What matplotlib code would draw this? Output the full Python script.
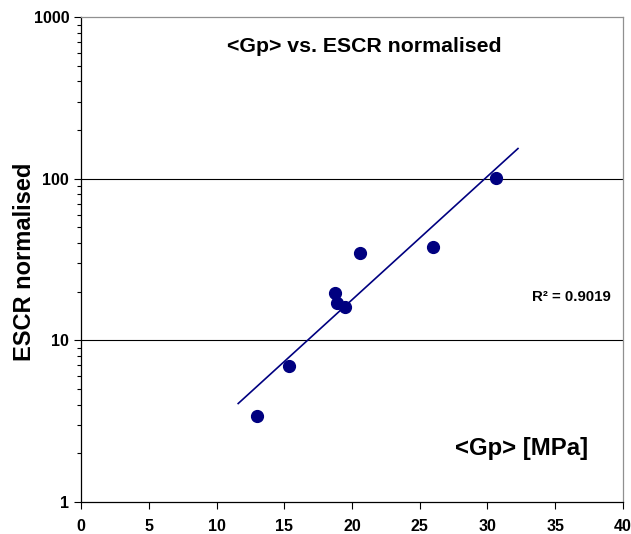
import numpy as np
import matplotlib
matplotlib.use("Agg")
import matplotlib.pyplot as plt
import matplotlib.ticker as mticker

# data
gp = [13.0, 15.35, 18.75, 18.9, 19.5, 20.6, 26.0, 30.65]
escr = [3.4, 6.9, 19.7, 17.0, 16.0, 34.8, 37.7, 100.5]
trend_x = [11.6, 32.25]
r2_label = "R² = 0.9019"

plt.rcParams.update({
    "font.family": ["Liberation Sans", "DejaVu Sans"],
    "font.weight": "bold",
})

fig = plt.figure(figsize=(6.31, 5.34), dpi=100)
ax = fig.add_axes([0.1284, 0.0599, 0.8589, 0.908])

ax.set_yscale("log")
ax.set_xlim(0, 40)
ax.set_ylim(1, 1000)

# exponential trendline (fit in log space)
slope, icpt = np.polyfit(gp, np.log10(escr), 1)
tx = np.linspace(trend_x[0], trend_x[1], 50)
ax.plot(tx, 10 ** (icpt + slope * tx), color="#000080", lw=1.2, zorder=3)

ax.plot(gp, escr, "o", color="#000080", ms=8.5, zorder=4)

for v in [10, 100]:
    ax.axhline(v, color="black", lw=0.8, zorder=1)

ax.xaxis.set_major_locator(mticker.MultipleLocator(5))
ax.yaxis.set_major_locator(mticker.LogLocator(base=10))
ax.yaxis.set_minor_locator(mticker.LogLocator(base=10, subs=np.arange(2, 10)))
ax.yaxis.set_major_formatter(mticker.FuncFormatter(lambda v, p: f"{v:g}"))
ax.yaxis.set_minor_formatter(mticker.NullFormatter())

ax.tick_params(axis="both", which="major", direction="out", length=5,
               width=0.8, labelsize=11.5, color="black")
ax.tick_params(axis="y", which="minor", direction="out", length=3, width=0.8)
ax.tick_params(axis="x", pad=7)
for lbl in ax.get_xticklabels() + ax.get_yticklabels():
    lbl.set_fontweight("bold")

for side in ["left", "bottom"]:
    ax.spines[side].set_color("black")
    ax.spines[side].set_linewidth(0.9)
for side in ["top", "right"]:
    ax.spines[side].set_color("#909090")
    ax.spines[side].set_linewidth(0.9)

fig.text(25 / 631, 1 - 262 / 534, "ESCR normalised", rotation=90,
         fontsize=17, fontweight="bold", ha="center", va="center")

fig.text(364 / 631, 1 - 47 / 534, "<Gp> vs. ESCR normalised", fontsize=15.3,
         fontweight="bold", ha="center", va="center")
fig.text(522 / 631, 1 - 448 / 534, "<Gp> [MPa]", fontsize=17.2,
         fontweight="bold", ha="center", va="center")
fig.text(571 / 631, 1 - 297 / 534, r2_label, fontsize=10.8,
         fontweight="bold", ha="center", va="center")

fig.savefig("out.png", dpi=100)
